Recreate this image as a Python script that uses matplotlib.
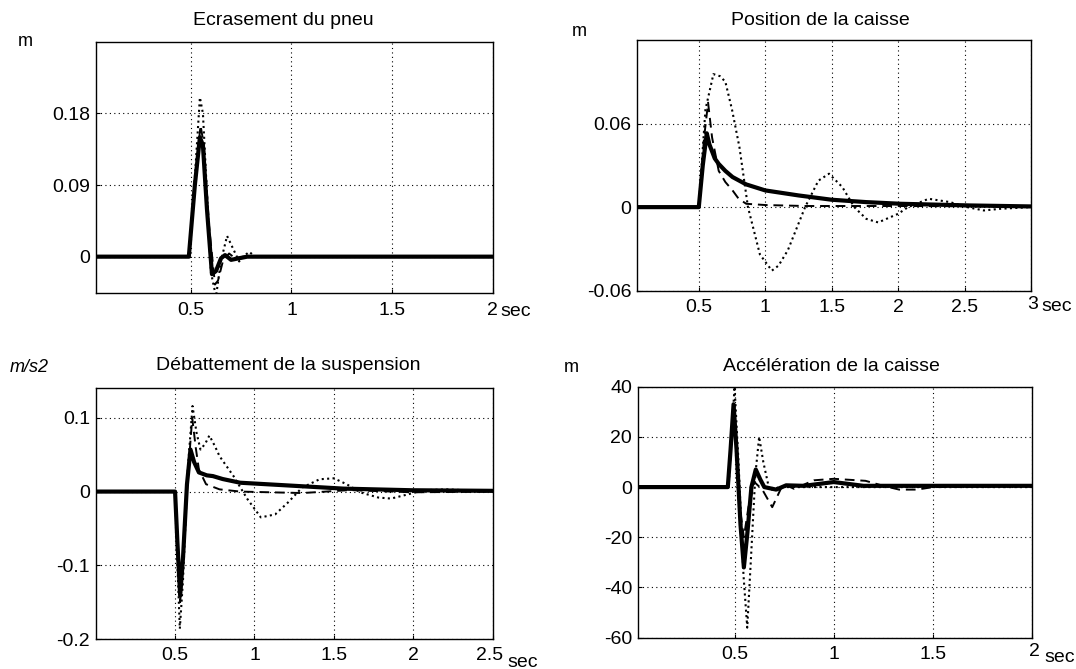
import matplotlib
matplotlib.use("Agg")
import matplotlib.pyplot as plt

plt.rcParams["font.family"] = ["Liberation Sans", "DejaVu Sans"]

# --- Ecrasement du pneu ---
tire_t_solid = [0, 0.49, 0.52, 0.545, 0.56, 0.58, 0.605, 0.625, 0.65, 0.67, 0.7, 0.74, 0.78, 2.0]
tire_v_solid = [0, 0, 0.09, 0.15, 0.14, 0.06, -0.022, -0.018, -0.002, 0.002, -0.004, -0.002, 0, 0]
tire_t_dash = [0, 0.49, 0.52, 0.548, 0.565, 0.59, 0.62, 0.635, 0.66, 0.69, 0.72, 0.76, 2.0]
tire_v_dash = [0, 0, 0.09, 0.165, 0.14, 0.04, -0.035, -0.03, -0.005, 0.004, -0.002, 0, 0]
tire_t_dot = [0, 0.49, 0.52, 0.545, 0.56, 0.58, 0.6, 0.625, 0.65, 0.68, 0.71, 0.74, 0.77, 0.79, 0.82, 2.0]
tire_v_dot = [0, 0, 0.1, 0.2, 0.18, 0.08, -0.02, -0.05, -0.005, 0.026, 0.01, -0.006, 0.002, 0.006, 0, 0]

# --- Position de la caisse ---
pos_t_solid = [0, 0.5, 0.53, 0.56, 0.58, 0.62, 0.65, 0.7, 0.754, 0.857, 1.0, 1.25, 1.5, 1.76, 2.02, 2.54, 3.0]
pos_v_solid = [0, 0, 0.03, 0.053, 0.045, 0.035, 0.031, 0.026, 0.0216, 0.0163, 0.012, 0.0084, 0.0053, 0.0036, 0.0024, 0.0012, 0.0005]
pos_t_dash = [0, 0.5, 0.54, 0.57, 0.6, 0.65, 0.7, 0.754, 0.8, 0.857, 1.0, 1.3, 2.0, 3.0]
pos_v_dash = [0, 0, 0.05, 0.075, 0.05, 0.026, 0.018, 0.012, 0.006, 0.0024, 0.0015, 0.0008, 0.0008, 0.0005]
pos_t_dot = [0, 0.5, 0.55, 0.61, 0.66, 0.7, 0.75, 0.806, 0.87, 0.96, 1.05, 1.1, 1.17, 1.3, 1.4, 1.48,
             1.58, 1.67, 1.76, 1.85, 2.0, 2.075, 2.23, 2.39, 2.52, 2.645, 2.77, 3.0]
pos_v_dot = [0, 0, 0.07, 0.0955, 0.094, 0.09, 0.07, 0.043, 0, -0.034, -0.0456, -0.042, -0.031, 0, 0.019, 0.024,
             0.0144, 0, -0.0084, -0.011, -0.0048, 0, 0.006, 0.0036, 0, -0.0024, -0.0012, 0]

# --- Debattement de la suspension ---
susp_t_solid = [0, 0.5, 0.515, 0.532, 0.55, 0.575, 0.597, 0.62, 0.65, 0.7, 0.738, 0.8, 0.91, 1.26, 1.56, 1.99, 2.5]
susp_v_solid = [0, 0, -0.07, -0.141, -0.09, 0.01, 0.057, 0.04, 0.026, 0.022, 0.021, 0.017, 0.012, 0.0077, 0.004, 0.0018, 0.001]
susp_t_dash = [0, 0.5, 0.515, 0.532, 0.55, 0.58, 0.608, 0.63, 0.65, 0.695, 0.78, 0.91, 1.3, 1.6, 2.0, 2.5]
susp_v_dash = [0, 0, -0.08, -0.15, -0.1, 0.02, 0.1, 0.06, 0.03, 0.01, 0.003, 0, -0.002, 0.002, -0.001, 0]
susp_t_dot = [0, 0.5, 0.515, 0.53, 0.55, 0.58, 0.61, 0.635, 0.66, 0.69, 0.716, 0.75, 0.78, 0.868, 0.955, 1.04,
              1.13, 1.21, 1.3, 1.41, 1.5, 1.58, 1.67, 1.78, 1.86, 1.97, 2.06, 2.21, 2.5]
susp_v_dot = [0, 0, -0.1, -0.186, -0.12, 0.03, 0.116, 0.08, 0.057, 0.065, 0.076, 0.062, 0.048, 0.021, -0.010, -0.035,
              -0.031, -0.015, 0.0054, 0.0167, 0.018, 0.01, -0.0013, -0.0081, -0.0095, -0.0036, 0.0018, 0.003, 0]

# --- Acceleration de la caisse ---
acc_t_solid = [0, 0.466, 0.48, 0.495, 0.51, 0.53, 0.547, 0.565, 0.585, 0.607, 0.63, 0.65, 0.71, 0.76, 0.85, 1.0, 1.15, 2.0]
acc_v_solid = [0, 0, 15, 33, 15, -15, -32, -18, 0, 7, 3, 0, -1, 0.7, 0.5, 2, 0.5, 0.5]
acc_t_dash = [0, 0.466, 0.48, 0.495, 0.51, 0.53, 0.547, 0.57, 0.6, 0.64, 0.69, 0.745, 0.8, 0.9, 1.0, 1.16,
              1.25, 1.33, 1.42, 1.5, 2.0]
acc_v_dash = [0, 0, 14, 29, 12, -10, -20, -8, 2, -1, -8, 1.3, -0.7, 2.7, 3.3, 2.5, 0.5, -1, -1, 0, 0.5]
acc_t_dot = [0, 0.47, 0.485, 0.5, 0.52, 0.545, 0.564, 0.585, 0.605, 0.624, 0.645, 0.676, 0.727, 2.0]
acc_v_dot = [0, 0, 20, 40, 10, -35, -56, -25, 5, 20, 10, -1.3, 0, 0]

# offsets in pixels: title (dx from centre, dy above top), last tick label and "sec" (dx, dy below right corner)
panels = [
    dict(rect=[0.0889, 0.5616, 0.3690, 0.3761], title="Ecrasement du pneu", title_off=(-11, 21),
         unit="m", unit_xy=(18, 41),
         xlim=(0.027, 2), ylim=(-0.046, 0.27), xticks=[0.5, 1, 1.5, 2], xlabels=["0.5", "1", "1.5", ""],
         yticks=[0, 0.09, 0.18], ylabels=["0", "0.09", "0.18"],
         last=("2", 0, 17), sec=(8, 18),
         series=[(tire_t_dot, tire_v_dot), (tire_t_dash, tire_v_dash), (tire_t_solid, tire_v_solid)]),
    dict(rect=[0.5920, 0.5655, 0.3662, 0.3747], title="Position de la caisse", title_off=(-14, 20),
         unit="m", unit_xy=(572, 32),
         xlim=(0.035, 3), ylim=(-0.06, 0.12), xticks=[0.5, 1, 1.5, 2, 2.5, 3],
         xlabels=["0.5", "1", "1.5", "2", "2.5", ""],
         yticks=[-0.06, 0, 0.06], ylabels=["-0.06", "0", "0.06"],
         last=("3", 2, 14), sec=(10, 16),
         series=[(pos_t_dot, pos_v_dot), (pos_t_dash, pos_v_dash), (pos_t_solid, pos_v_solid)]),
    dict(rect=[0.0889, 0.0448, 0.3690, 0.3747], title="Débattement de la suspension", title_off=(-6, 23),
         unit="m/s2", unit_xy=(10, 367),
         xlim=(0.0, 2.5), ylim=(-0.2, 0.14), xticks=[0.5, 1, 1.5, 2, 2.5],
         xlabels=["0.5", "1", "1.5", "2", ""],
         yticks=[-0.2, -0.1, 0, 0.1], ylabels=["-0.2", "-0.1", "0", "0.1"],
         last=("2.5", -3, 16), sec=(15, 23),
         series=[(susp_t_dot, susp_v_dot), (susp_t_dash, susp_v_dash), (susp_t_solid, susp_v_solid)]),
    dict(rect=[0.5927, 0.0468, 0.3665, 0.3752], title="Accélération de la caisse", title_off=(-3, 20),
         unit="m", unit_xy=(564, 368),
         xlim=(0.012, 2), ylim=(-60, 40), xticks=[0.5, 1, 1.5, 2], xlabels=["0.5", "1", "1.5", ""],
         yticks=[-60, -40, -20, 0, 20, 40], ylabels=["-60", "-40", "-20", "0", "20", "40"],
         last=("2", 2, 14), sec=(12, 20),
         series=[(acc_t_dot, acc_v_dot), (acc_t_dash, acc_v_dash), (acc_t_solid, acc_v_solid)]),
]

styles = [
    dict(color="black", linestyle=(0, (1, 1.6)), linewidth=1.5),
    dict(color="black", linestyle=(0, (5, 3)), linewidth=1.4),
    dict(color="black", linestyle="-", linewidth=3.0),
]

W, H = 1076, 669
fig = plt.figure(figsize=(W / 100, H / 100), dpi=100)
px = 0.72  # points per pixel at 100 dpi

for p in panels:
    ax = fig.add_axes(p["rect"])
    for (t, v), st in zip(p["series"], styles):
        ax.plot(t, v, **st)
    ax.set_xlim(*p["xlim"])
    ax.set_ylim(*p["ylim"])
    ax.set_xticks(p["xticks"])
    ax.set_xticklabels(p["xlabels"])
    ax.set_yticks(p["yticks"])
    ax.set_yticklabels(p["ylabels"])
    ax.tick_params(direction="in", length=3, width=0.8, labelsize=14)
    ax.tick_params(axis="x", pad=6)
    ax.tick_params(axis="y", pad=4)
    ax.grid(True, color="black", linestyle=(0, (1, 3)), linewidth=0.8)
    for s in ax.spines.values():
        s.set_linewidth(1.0)

    tdx, tdy = p["title_off"]
    ax.annotate(p["title"], xy=(0.5, 1), xycoords="axes fraction", xytext=(tdx * px, tdy * px),
                textcoords="offset points", fontsize=14, ha="center", va="center")
    lab, ldx, ldy = p["last"]
    ax.annotate(lab, xy=(1, 0), xycoords="axes fraction", xytext=(ldx * px, -ldy * px),
                textcoords="offset points", fontsize=14, ha="center", va="center")
    sdx, sdy = p["sec"]
    ax.annotate("sec", xy=(1, 0), xycoords="axes fraction", xytext=(sdx * px, -sdy * px),
                textcoords="offset points", fontsize=14, ha="left", va="center")
    style = "italic" if p["unit"] == "m/s2" else "normal"
    ux, uy = p["unit_xy"]
    fig.text(ux / W, 1 - uy / H, p["unit"], fontsize=13, style=style, ha="left", va="center")

fig.savefig("out.png", dpi=100)
